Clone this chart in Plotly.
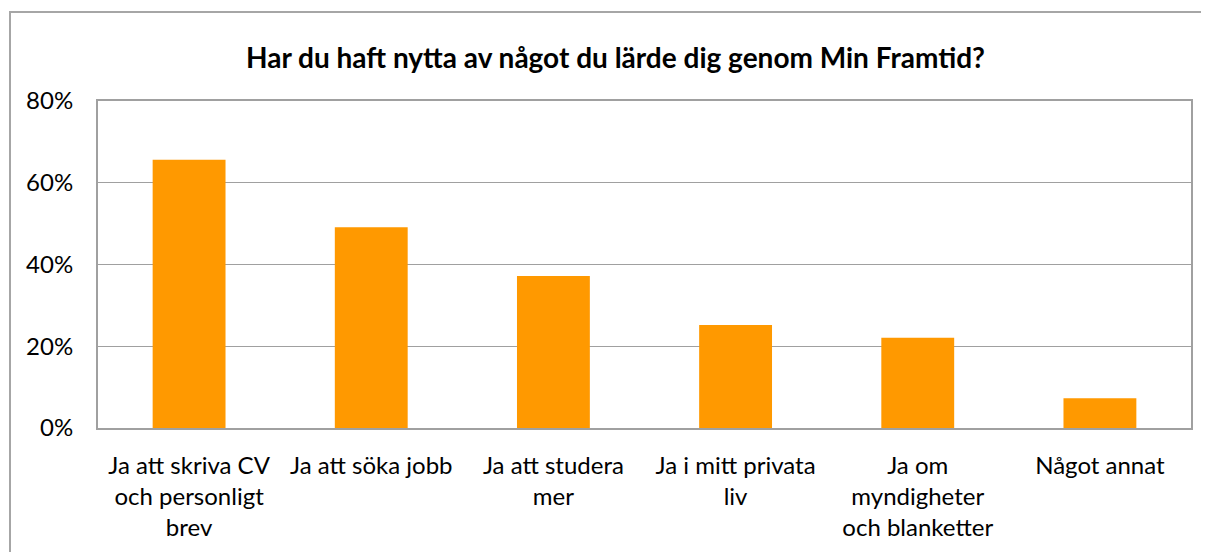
import plotly.graph_objects as go

categories = [
    "Ja att skriva CV<br>och personligt<br>brev",
    "Ja att söka jobb",
    "Ja att studera<br>mer",
    "Ja i mitt privata<br>liv",
    "Ja om<br>myndigheter<br>och blanketter",
    "Något annat",
]
values = [0.656, 0.491, 0.372, 0.252, 0.221, 0.073]
y_ticks = [0, 0.2, 0.4, 0.6, 0.8]
title_text = "Har du haft nytta av något du lärde dig genom Min Framtid?"

OFF = 8  # page body margin
W, H = 1209 - OFF, 552 - OFF
L, R, T, B = 98 - OFF, 1191 - OFF, 101 - OFF, 428 - OFF

fig = go.Figure(go.Bar(x=categories, y=values, marker=dict(color="#FF9900", line=dict(width=0))))

def px_x(p):
    return (p - OFF - L) / (R - L)

def px_y(p):
    return (B - (p - OFF)) / (B - T)

fig.update_layout(
    width=W, height=H,
    margin=dict(l=L, r=W - R, t=T, b=H - B, pad=0),
    paper_bgcolor="white", plot_bgcolor="white",
    bargap=0.6,
    showlegend=False,
    font=dict(family="Lato", size=24, color="black"),
    xaxis=dict(showline=True, linecolor="#a0a0a0", linewidth=2, mirror=True,
               showgrid=False, tickangle=0, ticklabelstandoff=15, tickfont=dict(size=24)),
    yaxis=dict(range=[0, 0.8], tickvals=y_ticks, tickformat=".0%", showgrid=True,
               gridcolor="#a0a0a0", gridwidth=1.2, showline=True, linecolor="#a0a0a0",
               linewidth=2, mirror=True, ticklabelstandoff=18, zeroline=False,
               tickfont=dict(size=24)),
    shapes=[dict(type="rect", xref="paper", yref="paper",
                 x0=px_x(10), x1=px_x(1240), y0=px_y(580), y1=px_y(12),
                 line=dict(color="#a6a6a6", width=2), layer="below")],
    annotations=[dict(text="<b>" + title_text + "</b>", xref="paper", yref="paper",
                      x=px_x(615), y=px_y(57), xanchor="center", yanchor="middle",
                      showarrow=False, font=dict(family="Lato", size=28, color="black"))],
)

fig.write_html("out.html")
